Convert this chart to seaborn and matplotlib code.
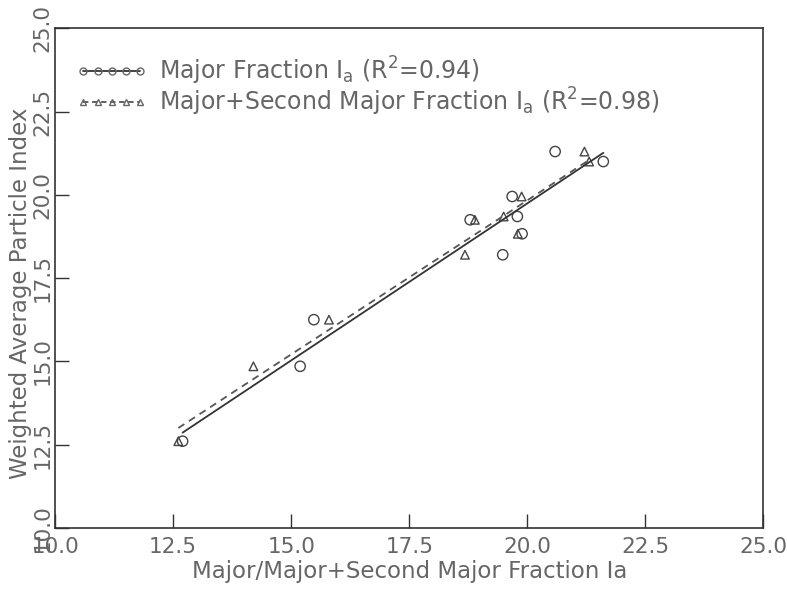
import numpy as np
import matplotlib
matplotlib.use("Agg")
import matplotlib.pyplot as plt
from matplotlib.lines import Line2D
import seaborn as sns

# weighted average particle index per sample
wapi = [12.6, 14.85, 16.25, 18.2, 19.25, 19.35, 18.83, 19.95, 21.3, 21.0]
# major fraction Ia (circles)
major_ia = [12.7, 15.19, 15.48, 19.48, 18.79, 19.79, 19.89, 19.68, 20.59, 21.61]
# major + second major fraction Ia (triangles)
major_second_ia = [12.61, 14.2, 15.8, 18.68, 18.89, 19.5, 19.8, 19.88, 21.21, 21.31]

label_major = r"Major Fraction $\mathregular{I_a}$ ($\mathregular{R^2}$=0.94)"
label_second = r"Major+Second Major Fraction $\mathregular{I_a}$ ($\mathregular{R^2}$=0.98)"
ticks = [10.0, 12.5, 15.0, 17.5, 20.0, 22.5, 25.0]

sns.set_theme(style="ticks")
plt.rcParams["font.family"] = ["DejaVu Sans"]
text_c = "#666666"
line_c = "#333333"

fig, ax = plt.subplots(figsize=(7.87, 5.91), dpi=100)
plt.subplots_adjust(left=0.07, right=0.97, bottom=0.107, top=0.952)

sns.regplot(x=major_ia, y=wapi, ci=None, marker="o", ax=ax,
            scatter_kws=dict(facecolors="none", edgecolors="#444444", s=55, linewidths=1.0, alpha=1),
            line_kws=dict(color=line_c, lw=1.3, ls="-"))
sns.regplot(x=major_second_ia, y=wapi, ci=None, marker="^", ax=ax,
            scatter_kws=dict(facecolors="none", edgecolors="#444444", s=38, linewidths=1.0, alpha=1),
            line_kws=dict(color="#555555", lw=1.3, ls=(0, (4, 3))))

ax.set_xlim(10, 25)
ax.set_ylim(10, 25)
ax.set_xticks(ticks)
ax.set_yticks(ticks)
ax.set_xticklabels([f"{t:.1f}" for t in ticks])
ax.set_yticklabels([f"{t:.1f}" for t in ticks], rotation=90, va="center")
ax.tick_params(direction="in", length=10, width=1, colors=line_c, labelcolor=text_c, labelsize=15.5)
ax.tick_params(axis="x", pad=7)
ax.tick_params(axis="y", pad=2)
for s in ax.spines.values():
    s.set_visible(True)
    s.set_color(line_c)
    s.set_linewidth(1.2)

ax.set_xlabel("Major/Major+Second Major Fraction Ia", fontsize=16.5, color=text_c, labelpad=2)
ax.set_ylabel("Weighted Average Particle Index", fontsize=16.5, color=text_c)
ax.yaxis.set_label_coords(-0.032, 0.47)

handles = [
    Line2D([], [], color=line_c, ls="-", lw=1.3, marker="o", markersize=5,
           markerfacecolor="none", markeredgecolor="#666666"),
    Line2D([], [], color="#555555", ls=(0, (3, 2)), lw=1.3, marker="^", markersize=4.5,
           markerfacecolor="none", markeredgecolor="#666666"),
]
leg = ax.legend(handles, [label_major, label_second], loc="upper left", frameon=False,
                numpoints=5, handlelength=3.0, handletextpad=0.5, labelspacing=-0.05,
                fontsize=17, bbox_to_anchor=(0.0, 0.99), borderaxespad=0.5)
for t in leg.get_texts():
    t.set_color(text_c)

fig.savefig("out.png", dpi=100)
